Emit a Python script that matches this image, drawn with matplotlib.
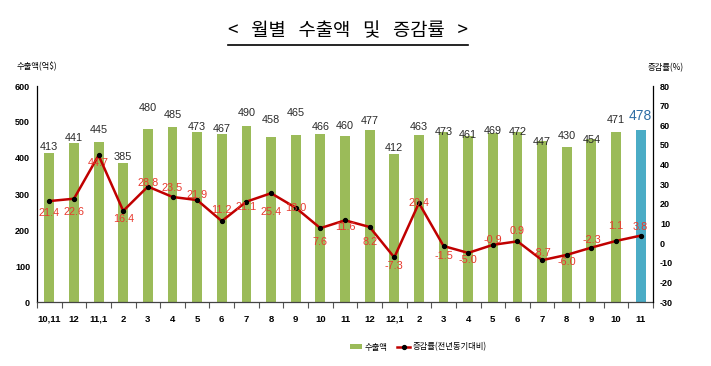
import matplotlib
matplotlib.use("Agg")
import matplotlib.pyplot as plt
from matplotlib.lines import Line2D
from matplotlib.patches import Patch
import numpy as np

plt.rcParams['font.family'] = ['Liberation Sans', 'Noto Sans CJK KR', 'DejaVu Sans']

categories = ["10,11", "12", "11,1", "2", "3", "4", "5", "6", "7", "8", "9", "10", "11",
              "12", "12,1", "2", "3", "4", "5", "6", "7", "8", "9", "10", "11"]
exports = [413, 441, 445, 385, 480, 485, 473, 467, 490, 458, 465, 466, 460,
           477, 412, 463, 473, 461, 469, 472, 447, 430, 454, 471, 478]
growth = [21.4, 22.6, 44.7, 16.4, 28.8, 23.5, 21.9, 11.2, 21.1, 25.4, 18.0, 7.6, 11.6,
          8.2, -7.3, 20.4, -1.5, -5.0, -0.9, 0.9, -8.7, -6.0, -2.3, 1.1, 3.8]
left_ticks = [0, 100, 200, 300, 400, 500, 600]
right_ticks = [-30, -20, -10, 0, 10, 20, 30, 40, 50, 60, 70, 80]

# label offsets (pixels) for manual data-label placement
bar_label_gap = [1, 0, 7, 1, 16, 7, 0, 0, 8, 12, 17, 2, 5,
                 4, 1, 3, -5, -4, -3, -5, -6, 6, -6, 7, 7]
line_label_dy = [-12, -13, -8, -8, 4, 9, 5, 11, -5, -19, 0, -14, -7,
                 -15, -9, 0, -10, -7, 5, 10, 7, -7, 8, 15, 9]

W, H = 711, 366
fig = plt.figure(figsize=(W / 100, H / 100), dpi=100)
ax1 = fig.add_axes([37 / W, 1 - 302 / H, (653 - 37) / W, (302 - 86) / H])
ax2 = ax1.twinx()

x = np.arange(len(categories))
green = "#9BBB59"
blue = "#4BACC6"
colors = [green] * (len(x) - 1) + [blue]
ax1.bar(x, exports, width=0.4, color=colors, zorder=2)
ax1.set_ylim(0, 600)
ax1.set_xlim(-0.5, len(x) - 0.5)
ax1.set_yticks(left_ticks)
ax1.set_yticklabels([str(t) for t in left_ticks], fontsize=6.5, fontweight='bold')
ax1.tick_params(axis='y', length=0, pad=5)
ax1.set_xticks(x)
ax1.set_xticklabels(categories, fontsize=6.8, fontweight='bold')
ax1.set_xticks(np.arange(-0.5, len(x), 1), minor=True)
ax1.tick_params(axis='x', which='major', length=0, pad=9)
ax1.tick_params(axis='x', which='minor', length=4, width=0.8, direction='out', color='#555555')
for s in ['top', 'right']:
    ax1.spines[s].set_visible(False)
ax1.spines['left'].set_linewidth(0.9)
ax1.spines['bottom'].set_linewidth(0.9)
ax1.spines['bottom'].set_color('#444444')

for i, v in enumerate(exports):
    last = i == len(exports) - 1
    ax1.annotate(str(v), (x[i], v), xytext=(0, bar_label_gap[i] * 0.72),
                 textcoords='offset points', ha='center', va='bottom',
                 fontsize=10 if last else 7.8, color='#2E6DA4' if last else '#2a2a2a',
                 zorder=5)

ax2.plot(x, growth, color="#C00000", lw=1.8, marker='o', markersize=2.8,
         markerfacecolor='black', markeredgecolor='black', zorder=4)
ax2.set_ylim(-30, 80)
ax2.set_yticks(right_ticks)
ax2.set_yticklabels([str(t) for t in right_ticks], fontsize=6.5, fontweight='bold')
ax2.tick_params(axis='y', length=0, pad=5)
for s in ['top', 'left', 'bottom']:
    ax2.spines[s].set_visible(False)
ax2.spines['right'].set_linewidth(0.9)

for i, v in enumerate(growth):
    ax2.annotate(f"{v:.1f}", (x[i], v), xytext=(0, line_label_dy[i] * 0.72),
                 textcoords='offset points', ha='center', va='center',
                 fontsize=7.8, color='#E8392E', zorder=6)

# axis titles
fig.text(17 / W, 1 - 66 / H, "수출액(억$)", fontsize=6, ha='left', va='center',
         family=['Noto Sans CJK KR', 'DejaVu Sans'])
fig.text(666 / W, 1 - 68 / H, "증감률(%)", fontsize=6, ha='center', va='center',
         family=['Noto Sans CJK KR', 'DejaVu Sans'])

# title with underline
title = fig.text(348 / W, 1 - 31 / H, "<   월별   수출액   및   증감률   >", fontsize=13.5,
                 ha='center', va='center', family=['Noto Sans CJK KR', 'DejaVu Sans'])
fig.canvas.draw()
bb = title.get_window_extent()
fig.add_artist(Line2D([bb.x0 / W, bb.x1 / W], [1 - 45 / H, 1 - 45 / H],
                      transform=fig.transFigure, color='black', lw=1.2))

# legend
handles = [Patch(facecolor=green, edgecolor='none'),
           Line2D([0], [0], color="#C00000", lw=1.8, marker='o', markersize=2.8,
                  markerfacecolor='black', markeredgecolor='black')]
fig.legend(handles, ["수출액", "증감률(전년동기대비)"], loc='center',
           bbox_to_anchor=(418 / W, 1 - 347 / H), ncol=2, frameon=False,
           prop={'family': ['Noto Sans CJK KR', 'DejaVu Sans'], 'size': 6},
           handlelength=1.5, handleheight=0.5, columnspacing=1.2, handletextpad=0.3,
           borderpad=0)

fig.savefig("out.png", dpi=100)
